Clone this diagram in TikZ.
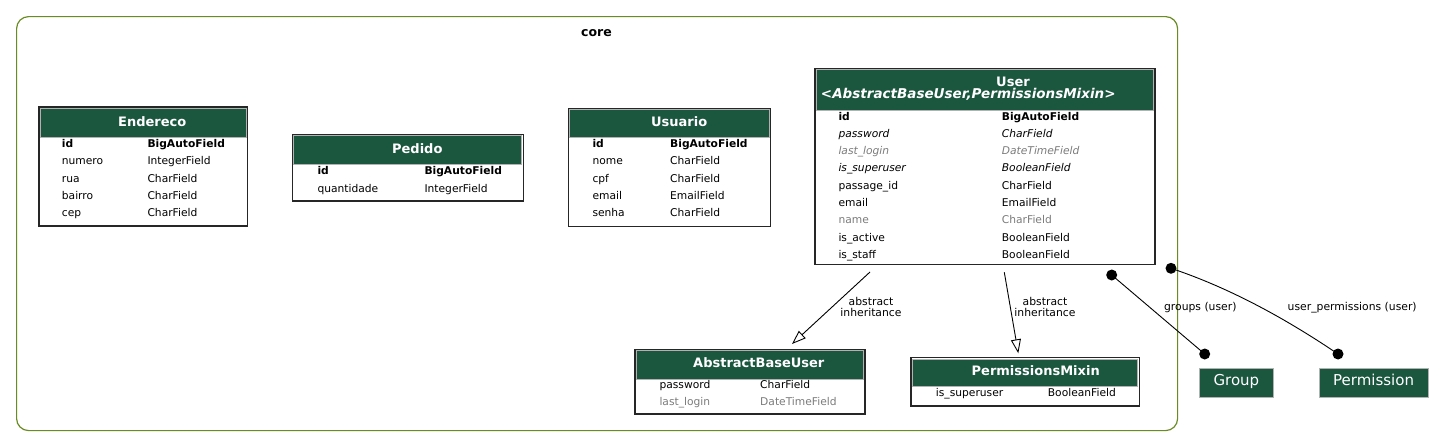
\documentclass[tikz,border=0pt]{standalone}
\usepackage{fontspec}
\setmainfont{DejaVu Sans}
\usetikzlibrary{arrows.meta}
\definecolor{hdrgreen}{HTML}{1B563F}
\definecolor{clus}{HTML}{698B22}
\definecolor{fgray}{HTML}{7B7B7B}
\newcommand\rowfnt{\fontsize{10.7}{12}\selectfont}
\newcommand\hdrfnt{\fontsize{13}{15}\selectfont\bfseries}
\begin{document}
\begin{tikzpicture}[x=1pt,y=-1pt,
  tbl/.style={draw=black!85, line width=1.1pt, anchor=north west, inner sep=0, outer sep=0},
  hdr/.style={fill=hdrgreen, draw=black!30, line width=0.8pt, anchor=north west, inner sep=0, outer sep=0},
  ttl/.style={anchor=base, text=white, font=\hdrfnt, inner sep=0},
  fld/.style={anchor=base west, inner sep=0, font=\rowfnt},
  keyf/.style={fld, font=\rowfnt\bfseries},
  ital/.style={fld, font=\rowfnt\itshape},
  dimf/.style={fld, text=fgray},
  dimit/.style={fld, text=fgray, font=\rowfnt\itshape},
  elab/.style={font=\fontsize{10.8}{11}\selectfont, align=center, inner sep=0},
  inh/.style={line width=0.9pt, -{Triangle[open, length=14pt, width=10pt]}},
  rel/.style={line width=0.9pt},
  extm/.style={fill=hdrgreen, draw=black!30, line width=0.8pt, text=white, font=\fontsize{15}{17}\selectfont, inner sep=0, anchor=north west, text height=11pt, text depth=6pt},
]
\useasboundingbox (0,0) rectangle (1444,447);

% cluster
\node[draw=clus, line width=1.2pt, rounded corners=12pt, anchor=north west, inner sep=0,
      minimum width=1161pt, minimum height=414pt] (core) at (16,16) {};
\node[anchor=base, inner sep=0, font=\fontsize{12.5}{14}\selectfont\bfseries] (corelbl) at (596.5,36.5) {core};

% Endereco
\node[tbl, minimum width=208.7pt, minimum height=119pt] (endereco) at (39,107) {};
\node[hdr, minimum width=205.7pt, minimum height=28.8pt] (endereco-h) at (40.5,108.5) {};
\node[ttl] (endereco-t) at (152.2,126.5) {Endereco};
\node[keyf] (e1n) at (61.7,147.5) {id};        \node[keyf] (e1t) at (147.3,147.5) {BigAutoField};
\node[fld] (e2n) at (61.7,164.8) {numero};     \node[fld] (e2t) at (147.3,164.8) {IntegerField};
\node[fld] (e3n) at (61.7,182.1) {rua};        \node[fld] (e3t) at (147.3,182.1) {CharField};
\node[fld] (e4n) at (61.7,199.4) {bairro};     \node[fld] (e4t) at (147.3,199.4) {CharField};
\node[fld] (e5n) at (61.7,216.7) {cep};        \node[fld] (e5t) at (147.3,216.7) {CharField};

% Pedido
\node[tbl, minimum width=231pt, minimum height=66.7pt] (pedido) at (292.3,134.3) {};
\node[hdr, minimum width=228pt, minimum height=28.5pt] (pedido-h) at (293.8,135.8) {};
\node[ttl] (pedido-t) at (417.3,153.3) {Pedido};
\node[keyf] (p1n) at (317.3,174.7) {id};        \node[keyf] (p1t) at (424.3,174.7) {BigAutoField};
\node[fld] (p2n) at (317.3,192) {quantidade};   \node[fld] (p2t) at (424.3,192) {IntegerField};

% Usuario
\node[tbl, minimum width=202.4pt, minimum height=118.4pt] (usuario) at (568.3,108.3) {};
\node[hdr, minimum width=199.4pt, minimum height=28pt] (usuario-h) at (569.8,109.8) {};
\node[ttl] (usuario-t) at (679.2,126.5) {Usuario};
\node[keyf] (u1n) at (592.3,147.5) {id};       \node[keyf] (u1t) at (670,147.5) {BigAutoField};
\node[fld] (u2n) at (592.3,164.8) {nome};      \node[fld] (u2t) at (670,164.8) {CharField};
\node[fld] (u3n) at (592.3,182.1) {cpf};       \node[fld] (u3t) at (670,182.1) {CharField};
\node[fld] (u4n) at (592.3,199.4) {email};     \node[fld] (u4t) at (670,199.4) {EmailField};
\node[fld] (u5n) at (592.3,216.7) {senha};     \node[fld] (u5t) at (670,216.7) {CharField};

% User
\node[tbl, minimum width=340pt, minimum height=196.5pt] (user) at (815,68.3) {};
\node[hdr, minimum width=337pt, minimum height=40.2pt] (user-h) at (816.5,69.8) {};
\node[ttl] (user-t) at (1013,86) {User};
\node[ttl, font=\fontsize{13.5}{15}\selectfont\bfseries\itshape] (user-s) at (968.3,98.5) {<AbstractBaseUser,PermissionsMixin>};
\node[keyf] (s1n) at (838.3,120) {id};              \node[keyf] (s1t) at (1001.7,120) {BigAutoField};
\node[ital] (s2n) at (838.3,137.3) {password};      \node[ital] (s2t) at (1001.7,137.3) {CharField};
\node[dimit] (s3n) at (838.3,154.6) {last\_login};  \node[dimit] (s3t) at (1001.7,154.6) {DateTimeField};
\node[ital] (s4n) at (838.3,171.9) {is\_superuser}; \node[ital] (s4t) at (1001.7,171.9) {BooleanField};
\node[fld] (s5n) at (838.3,189.2) {passage\_id};    \node[fld] (s5t) at (1001.7,189.2) {CharField};
\node[fld] (s6n) at (838.3,206.5) {email};          \node[fld] (s6t) at (1001.7,206.5) {EmailField};
\node[dimf] (s7n) at (838.3,223.8) {name};          \node[dimf] (s7t) at (1001.7,223.8) {CharField};
\node[fld] (s8n) at (838.3,241.1) {is\_active};     \node[fld] (s8t) at (1001.7,241.1) {BooleanField};
\node[fld] (s9n) at (838.3,258.4) {is\_staff};      \node[fld] (s9t) at (1001.7,258.4) {BooleanField};

% AbstractBaseUser
\node[tbl, minimum width=230pt, minimum height=64.7pt] (abu) at (635,349.3) {};
\node[hdr, minimum width=227pt, minimum height=28.2pt] (abu-h) at (636.5,350.8) {};
\node[ttl] (abu-t) at (758.8,367.7) {AbstractBaseUser};
\node[fld] (a1n) at (659.3,388.3) {password};      \node[fld] (a1t) at (760,388.3) {CharField};
\node[dimf] (a2n) at (659.3,405.6) {last\_login};  \node[dimf] (a2t) at (760,405.6) {DateTimeField};

% PermissionsMixin
\node[tbl, minimum width=228.3pt, minimum height=48.3pt] (pm) at (911,357.7) {};
\node[hdr, minimum width=225.3pt, minimum height=27.5pt] (pm-h) at (912.5,359.2) {};
\node[ttl] (pm-t) at (1035.7,375.3) {PermissionsMixin};
\node[fld] (m1n) at (935.7,396.7) {is\_superuser};  \node[fld] (m1t) at (1047.7,396.7) {BooleanField};

% external models
\node[extm, minimum width=74pt, minimum height=28.4pt] (group) at (1199,368.3) {Group};
\node[extm, minimum width=109pt, minimum height=28.4pt] (permission) at (1318.7,368.3) {Permission};

% connector end points
\coordinate (c-abu-s) at (870,272);
\coordinate (c-abu-e) at (792,344);
\coordinate (c-pm-s) at (1004.3,272.3);
\coordinate (c-pm-e) at (1018.3,353.3);
\coordinate (c-gr-s) at (1111.7,275);
\coordinate (c-gr-e) at (1204.7,354);
\coordinate (c-pe-s) at (1171,268.3);
\coordinate (c-pe-e) at (1338,354);

% inheritance
\draw[inh] (c-abu-s) -- (c-abu-e);
\node[elab] (l-abu) at (871,307) {abstract\\inheritance};
\draw[inh] (c-pm-s) -- (c-pm-e);
\node[elab] (l-pm) at (1045,307) {abstract\\inheritance};

% relations
\draw[rel] (c-gr-s) -- (c-gr-e);
\fill (c-gr-s) circle (5.5pt);
\fill (c-gr-e) circle (5.5pt);
\node[elab] (l-gr) at (1200.3,307.3) {groups (user)};
\draw[rel] (c-pe-s) .. controls (1215,283) and (1270,308) .. (c-pe-e);
\fill (c-pe-s) circle (5.5pt);
\fill (c-pe-e) circle (5.5pt);
\node[elab] (l-pe) at (1352.2,307.3) {user\_permissions (user)};
\end{tikzpicture}
\end{document}
